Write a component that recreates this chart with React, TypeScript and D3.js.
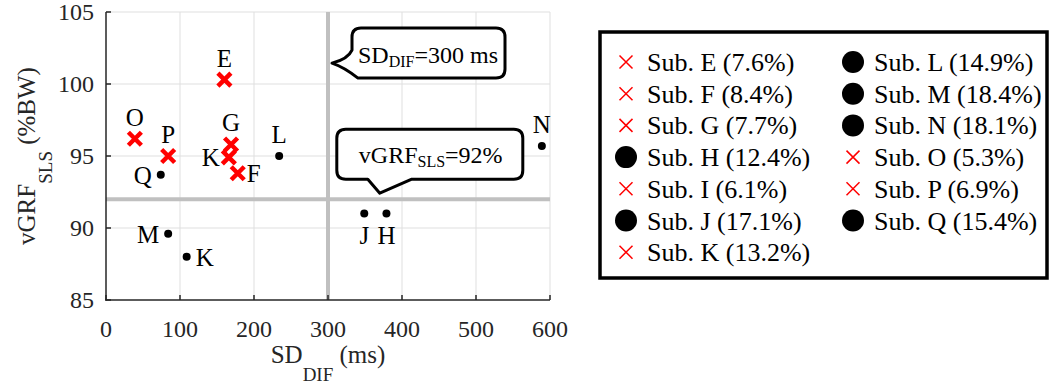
import { useMemo } from "react";
import * as d3 from "d3";

// subjects as plotted (label, SD_DIF in ms, vGRF_SLS in %BW, marker)
const labels = ["E", "O", "P", "G", "K", "F", "Q", "L", "M", "K", "J", "H", "N"];
const sdDif = [160, 39, 84, 169, 166, 178, 74, 234, 84, 109, 349, 379, 589];
const vgrf = [100.3, 96.2, 95.0, 95.8, 94.9, 93.8, 93.7, 95.0, 89.6, 88.0, 91.0, 91.0, 95.7];
const markers = ["x", "x", "x", "x", "x", "x", "o", "o", "o", "o", "o", "o", "o"];

// where each point's letter sits
const labelSide = ["top", "top", "top", "top", "left", "right", "left", "top", "left", "right", "bottom", "bottom", "top"];

const legendNames = ["E", "F", "G", "H", "I", "J", "K", "L", "M", "N", "O", "P", "Q"];
const legendPct = [7.6, 8.4, 7.7, 12.4, 6.1, 17.1, 13.2, 14.9, 18.4, 18.1, 5.3, 6.9, 15.4];
const legendMarkers = ["x", "x", "x", "o", "x", "o", "x", "o", "o", "o", "x", "x", "o"];

const xTicks = [0, 100, 200, 300, 400, 500, 600];
const yTicks = [85, 90, 95, 100, 105];

const sdThreshold = 300;
const vgrfThreshold = 92;

const width = 1054;
const height = 387;
const margin = { top: 12, right: 504, bottom: 87, left: 106 };
const font = "'Liberation Serif', 'Times New Roman', serif";

const Cross = ({ x, y, s, w }: { x: number; y: number; s: number; w: number }) => (
  <path
    d={`M${x - s},${y - s}L${x + s},${y + s}M${x - s},${y + s}L${x + s},${y - s}`}
    stroke="#ff0000"
    strokeWidth={w}
    fill="none"
  />
);

export default function App() {
  const xScale = useMemo(
    () => d3.scaleLinear().domain([0, 600]).range([margin.left, width - margin.right]),
    []
  );
  const yScale = useMemo(
    () => d3.scaleLinear().domain([85, 105]).range([height - margin.bottom, margin.top]),
    []
  );

  const x0 = xScale(0);
  const x1 = xScale(600);
  const y0 = yScale(85);
  const y1 = yScale(105);

  // callout 1, pointing at the vertical threshold line
  const t1 = [xScale(sdThreshold) + 4, yScale(101.45)];
  const b1 = { l: t1[0] + 20, r: t1[0] + 173, t: t1[1] - 35, b: t1[1] + 15 };
  const r = 9;
  const call1 = `M${b1.l + r},${b1.t}H${b1.r - r}Q${b1.r},${b1.t} ${b1.r},${b1.t + r}V${b1.b - r}Q${b1.r},${b1.b} ${b1.r - r},${b1.b}H${b1.l + 6}Q${b1.l - 8},${t1[1] + 4} ${t1[0]},${t1[1]}Q${b1.l - 4},${t1[1] - 4} ${b1.l},${t1[1] - 13}V${b1.t + r}Q${b1.l},${b1.t} ${b1.l + r},${b1.t}Z`;

  // callout 2, pointing at the horizontal threshold line
  const t2 = [xScale(370), yScale(vgrfThreshold) - 6];
  const b2 = { l: t2[0] - 43, r: t2[0] + 143, t: t2[1] - 64, b: t2[1] - 14 };
  const call2 = `M${b2.l + r},${b2.t}H${b2.r - r}Q${b2.r},${b2.t} ${b2.r},${b2.t + r}V${b2.b - r}Q${b2.r},${b2.b} ${b2.r - r},${b2.b}H${t2[0] + 32}L${t2[0]},${t2[1]}L${t2[0] - 12},${b2.b}H${b2.l + r}Q${b2.l},${b2.b} ${b2.l},${b2.b - r}V${b2.t + r}Q${b2.l},${b2.t} ${b2.l + r},${b2.t}Z`;

  const labelOffset = (side: string) => {
    if (side === "top") return { dx: 0, dy: -13, anchor: "middle" };
    if (side === "bottom") return { dx: 0, dy: 30, anchor: "middle" };
    if (side === "left") return { dx: -9, dy: 9, anchor: "end" };
    return { dx: 9, dy: 9, anchor: "start" };
  };

  const legendX = [626, 853];
  const legendY = d3.range(7).map((i) => 62 + i * 31.7);

  return (
    <div style={{ position: "fixed", left: 0, top: 0 }}>
      <svg width={width} height={height} viewBox={`0 0 ${width} ${height}`} fontFamily={font}>
        <rect width={width} height={height} fill="#fff" />

        {/* grid */}
        <g stroke="#dfdfdf" strokeWidth={1}>
          {xTicks.slice(1).map((t) => (
            <line key={`gx${t}`} x1={xScale(t)} x2={xScale(t)} y1={y1} y2={y0} />
          ))}
          {yTicks.slice(1).map((t) => (
            <line key={`gy${t}`} x1={x0} x2={x1} y1={yScale(t)} y2={yScale(t)} />
          ))}
        </g>

        {/* threshold lines */}
        <g stroke="#c0c0c0" strokeWidth={4}>
          <line x1={xScale(sdThreshold)} x2={xScale(sdThreshold)} y1={y1} y2={y0} />
          <line x1={x0} x2={x1} y1={yScale(vgrfThreshold)} y2={yScale(vgrfThreshold)} />
        </g>

        {/* axes */}
        <g stroke="#262626" strokeWidth={1.5} fill="none">
          <line x1={x0} x2={x0} y1={y1} y2={y0 + 0.75} />
          <line x1={x0 - 0.75} x2={x1} y1={y0} y2={y0} />
          {yTicks.map((t) => (
            <line key={`ty${t}`} x1={x0} x2={x0 + 5} y1={yScale(t)} y2={yScale(t)} />
          ))}
          {xTicks.map((t) => (
            <line key={`tx${t}`} x1={xScale(t)} x2={xScale(t)} y1={y0} y2={y0 - 5} />
          ))}
        </g>
        <g fontSize={24} fill="#262626">
          {yTicks.map((t) => (
            <text key={`ly${t}`} x={x0 - 12} y={yScale(t) + 8} textAnchor="end">
              {t}
            </text>
          ))}
          {xTicks.map((t) => (
            <text key={`lx${t}`} x={xScale(t)} y={y0 + 37} textAnchor="middle">
              {t}
            </text>
          ))}
        </g>

        {/* axis titles */}
        <text x={(x0 + x1) / 2} y={363} textAnchor="middle" fontSize={25} fill="#262626">
          SD
          <tspan fontSize={19} dy={18}>DIF</tspan>
          <tspan dy={-18}> (ms)</tspan>
        </text>
        <text
          transform={`translate(35,${(y0 + y1) / 2}) rotate(-90)`}
          textAnchor="middle"
          fontSize={25}
          fill="#262626"
        >
          vGRF
          <tspan fontSize={19} dy={17}>SLS</tspan>
          <tspan dy={-17}> (%BW)</tspan>
        </text>

        {/* points */}
        {labels.map((lab, i) => {
          const cx = xScale(sdDif[i]);
          const cy = yScale(vgrf[i]);
          return markers[i] === "x" ? (
            <Cross key={`p${i}`} x={cx} y={cy} s={6.5} w={4.5} />
          ) : (
            <circle key={`p${i}`} cx={cx} cy={cy} r={4} fill="#000" />
          );
        })}
        <g fontSize={25} fill="#000">
          {labels.map((lab, i) => {
            const o = labelOffset(labelSide[i]);
            return (
              <text
                key={`t${i}`}
                x={xScale(sdDif[i]) + o.dx}
                y={yScale(vgrf[i]) + o.dy}
                textAnchor={o.anchor}
              >
                {lab}
              </text>
            );
          })}
        </g>

        {/* callouts */}
        <path d={call1} fill="#fff" stroke="#000" strokeWidth={3} strokeLinejoin="round" />
        <text x={b1.l + 6} y={t1[1]} fontSize={24} fill="#000">
          SD
          <tspan fontSize={16} dy={4}>DIF</tspan>
          <tspan dy={-4}>=300 ms</tspan>
        </text>
        <path d={call2} fill="#fff" stroke="#000" strokeWidth={3} strokeLinejoin="round" />
        <text x={b2.l + 22} y={b2.b - 16} fontSize={24} fill="#000">
          vGRF
          <tspan fontSize={16} dy={4}>SLS</tspan>
          <tspan dy={-4}>=92%</tspan>
        </text>

        {/* legend */}
        <rect x={600} y={32} width={447} height={246} fill="#fff" stroke="#000" strokeWidth={3.5} />
        {legendNames.map((n, i) => {
          const col = i < 7 ? 0 : 1;
          const row = i < 7 ? i : i - 7;
          const mx = legendX[col];
          const my = legendY[row];
          return (
            <g key={`lg${n}`}>
              {legendMarkers[i] === "x" ? (
                <Cross x={mx} y={my} s={6.5} w={1.5} />
              ) : (
                <circle cx={mx} cy={my} r={11} fill="#000" />
              )}
              <text x={mx + 21} y={my + 9} fontSize={26} fill="#000">
                {`Sub. ${n} (${legendPct[i]}%)`}
              </text>
            </g>
          );
        })}
      </svg>
    </div>
  );
}
